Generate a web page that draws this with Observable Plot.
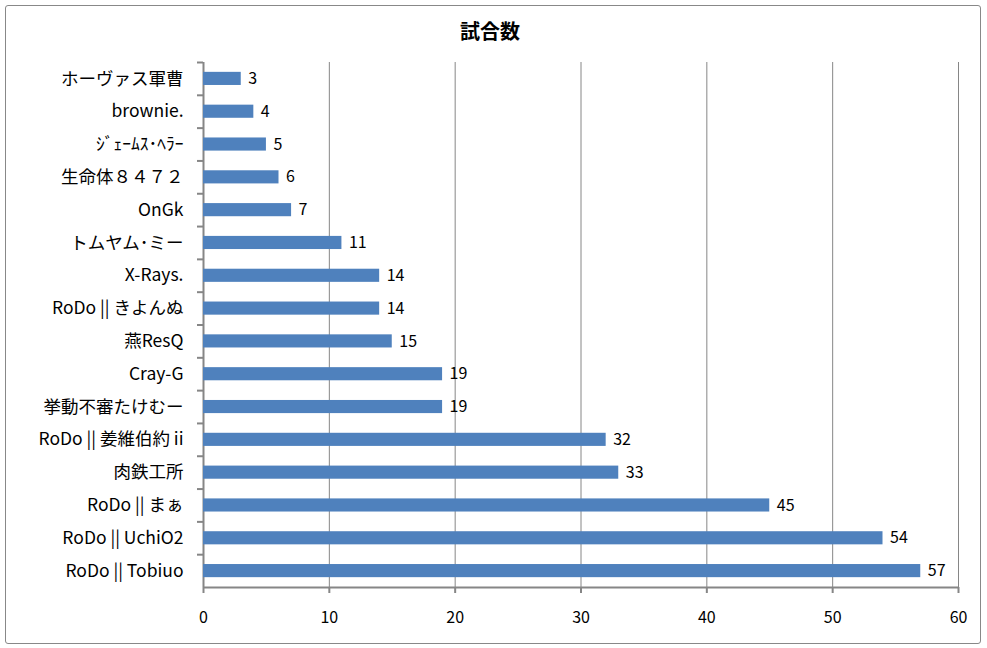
<!DOCTYPE html>
<html><head><meta charset="utf-8">
<script src="https://cdn.jsdelivr.net/npm/d3@7"></script>
<script src="https://cdn.jsdelivr.net/npm/@observablehq/plot@0.6"></script>
<style>
body{margin:0;background:#fff;font-family:"Noto Sans CJK JP",sans-serif;}
#wrap{position:relative;width:987px;height:648px;}
#border{position:absolute;left:5px;top:5px;width:976px;height:639px;border:1px solid #888;border-radius:3px;box-sizing:border-box;pointer-events:none;}
#title{position:absolute;left:0;width:980px;top:16px;text-align:center;font-size:20px;font-weight:bold;color:#000;font-family:"Noto Sans CJK JP",sans-serif;}
#chart{position:absolute;left:0;top:0;}
</style></head>
<body><div id="wrap"><div id="chart"></div><div id="border"></div><div id="title">試合数</div></div>
<script>
const categories = ["ホーヴァス軍曹","brownie.","ｼﾞｪｰﾑｽ･ﾍﾗｰ","生命体８４７２","OnGk","トムヤム･ミー","X-Rays.","RoDo || きよんぬ","燕ResQ","Cray-G","挙動不審たけむー","RoDo || 姜維伯約 ii","肉鉄工所","RoDo || まぁ","RoDo || UchiO2","RoDo || Tobiuo"];
const values = [3,4,5,6,7,11,14,14,15,19,19,32,33,45,54,57];
const xTicks = [0,10,20,30,40,50,60];
const data = categories.map((c,i)=>({name:c, value:values[i]}));
const W=987,H=648,mt=62,mb=61,ml=203,mr=29;
const step=(H-mt-mb)/categories.length;
const grey="#868686";
const plot = Plot.plot({
  width:W,height:H,marginTop:mt,marginBottom:mb,marginLeft:ml,marginRight:mr,
  style:{fontFamily:'"Noto Sans CJK JP",sans-serif',fontSize:"16px",color:"#000",background:"transparent"},
  x:{domain:[0,60],ticks:xTicks,label:null},
  y:{domain:categories,padding:0.6,paddingOuter:0.3,round:false,label:null},
  marks:[
    Plot.ruleX(xTicks,{stroke:grey,strokeWidth:1}),
    Plot.ruleY([categories[categories.length-1]],{dy:step/2,stroke:grey,strokeWidth:2}),
    Plot.ruleX([0],{stroke:grey,strokeWidth:2}),
    Plot.barX(data,{x:"value",y:"name",fill:"#4F81BD"}),
    Plot.text(data,{x:"value",y:"name",text:d=>String(d.value),textAnchor:"start",dx:7,fontSize:16,fill:"#000"}),
    Plot.axisX({ticks:xTicks,tickSize:6,stroke:grey,strokeWidth:2,tickPadding:18,fontSize:16,label:null,tickFormat:d=>String(d)}),
    Plot.axisY({tickSize:0,tickPadding:20,fontSize:17.5,label:null}),
    Plot.axisY({tickSize:6,dy:-step/2,tickFormat:()=>"",stroke:grey,strokeWidth:2,label:null})
  ]
});
document.getElementById("chart").appendChild(plot);
</script></body></html>
